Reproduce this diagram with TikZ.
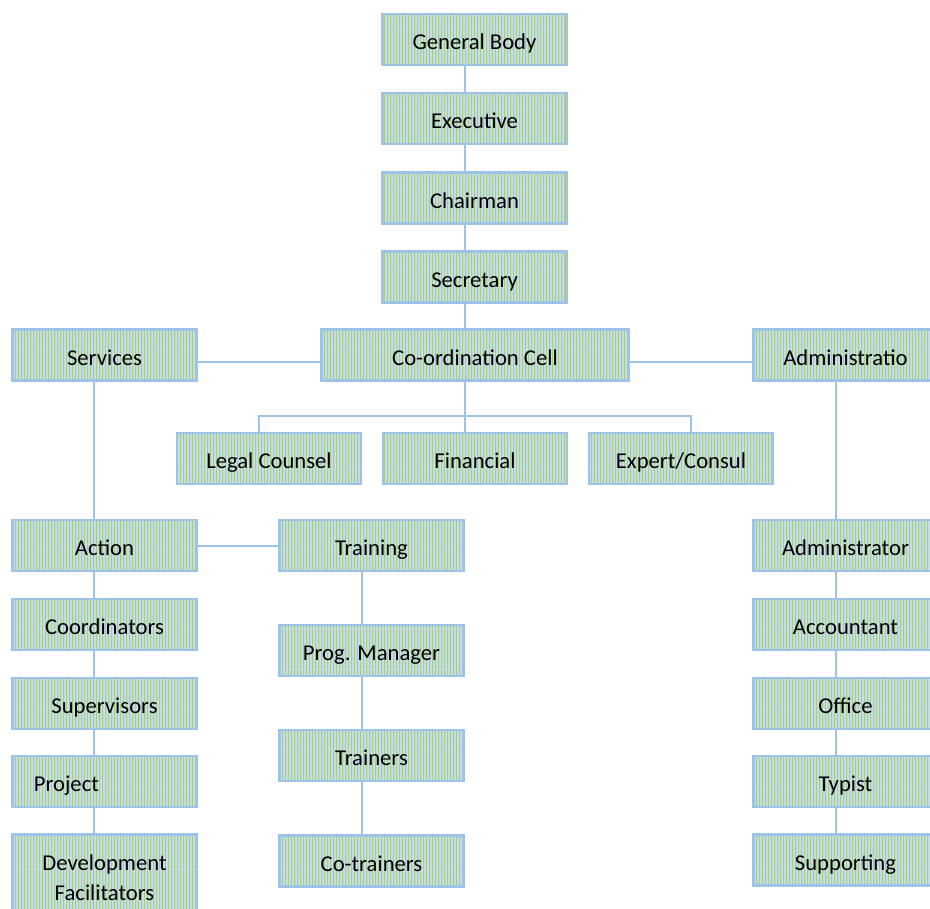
\documentclass[tikz,border=0pt]{standalone}
\usepackage{fontspec}
\setmainfont{Carlito}
\usetikzlibrary{calc,patterns.meta}

\definecolor{boxline}{RGB}{157,195,230}
\definecolor{boxbg}{RGB}{200,222,232}
\definecolor{boxgreen}{RGB}{164,206,134}

\tikzdeclarepattern{
  name=vstripes,
  type=uncolored,
  bounding box={(0pt,0pt) and (2.25pt,30pt)},
  tile size={(2.25pt,30pt)},
  code={\pgfpathrectangle{\pgfpointorigin}{\pgfpoint{1.2pt}{30pt}}\pgfusepath{fill}}
}

\tikzset{
  box/.style={draw=boxline, line width=1.9pt, preaction={fill=boxbg},
    pattern=vstripes, pattern color=boxgreen, rectangle,
    minimum width=138pt, minimum height=38pt, inner sep=2pt,
    text height=16pt, text depth=1pt,
    align=center, font=\fontsize{17}{23}\selectfont},
  link/.style={draw=boxline, line width=1.5pt}
}

\begin{document}
\begin{tikzpicture}[x=0.75pt, y=-0.75pt]
    \useasboundingbox (0,0) rectangle (930,908);
    \clip (0,0) rectangle (930,908);

    \node[box] (genbody) at (474.5,39.5) {General Body};
    \node[box] (exec) at (474.5,118.5) {Executive};
    \node[box] (chair) at (474.5,198) {Chairman};
    \node[box] (secr) at (474.5,277) {Secretary};

    \node[box, minimum width=230pt] (coord) at (475,355) {Co-ordination Cell};
    \node[box] (serv) at (104.5,355) {Services};
    \node[box] (admin) at (845.5,355) {Administratio};

    \node[box] (legal) at (269,458.5) {Legal Counsel};
    \node[box] (finance) at (475,458.5) {Financial};
    \node[box] (expert) at (681,458.5) {Expert/Consul};

    \node[box] (action) at (104.5,545.5) {Action};
    \node[box] (coords) at (104.5,624.5) {Coordinators};
    \node[box] (superv) at (104.5,703.5) {Supervisors};
    \node[box, text width=106pt, align=left] (proj) at (104.5,781.5) {Project};
    \node[box, anchor=north, minimum height=65pt, text height=, text depth=] (devfac) at (104.5,833) {Development\\ Facilitators};

    \node[box] (train) at (371.5,545.5) {Training};
    \node[box] (progman) at (371.5,650.5) {Prog. Manager};
    \node[box] (trainers) at (371.5,755.5) {Trainers};
    \node[box] (cotrain) at (371.5,861) {Co-trainers};

    \node[box] (admr) at (845.5,545.5) {Administrator};
    \node[box] (acct) at (845.5,624.5) {Accountant};
    \node[box] (office) at (845.5,703.5) {Office};
    \node[box] (typist) at (845.5,781.5) {Typist};
    \node[box] (support) at (845.5,860) {Supporting};

    \coordinate (spine) at (465,0);
    \coordinate (leftspine) at (94,0);
    \coordinate (midspine) at (362,0);
    \coordinate (rightspine) at (836,0);
    \coordinate (bus) at (465,416);

    \draw[link] (genbody.south -| spine) -- (exec.north -| spine);
    \draw[link] (exec.south -| spine) -- (chair.north -| spine);
    \draw[link] (chair.south -| spine) -- (secr.north -| spine);
    \draw[link] (secr.south -| spine) -- (coord.north -| spine);

    \draw[link] ($(serv.east)+(0,7)$) -- ($(coord.west)+(0,7)$);
    \draw[link] ($(coord.east)+(0,7)$) -- ($(admin.west)+(0,7)$);

    \draw[link] (coord.south -| spine) -- (bus);
    \draw[link] ($(legal.north)+(-10,0)$) |- (bus) -| ($(expert.north)+(10,0)$);
    \draw[link] (bus) -- (finance.north -| spine);

    \draw[link] (serv.south -| leftspine) -- (action.north -| leftspine);
    \draw[link] (action.south -| leftspine) -- (coords.north -| leftspine);
    \draw[link] (coords.south -| leftspine) -- (superv.north -| leftspine);
    \draw[link] (superv.south -| leftspine) -- (proj.north -| leftspine);
    \draw[link] (proj.south -| leftspine) -- (devfac.north -| leftspine);
    \draw[link] (action.east) -- (train.west);

    \draw[link] (train.south -| midspine) -- (progman.north -| midspine);
    \draw[link] (progman.south -| midspine) -- (trainers.north -| midspine);
    \draw[link] (trainers.south -| midspine) -- (cotrain.north -| midspine);

    \draw[link] (admin.south -| rightspine) -- (admr.north -| rightspine);
    \draw[link] (admr.south -| rightspine) -- (acct.north -| rightspine);
    \draw[link] (acct.south -| rightspine) -- (office.north -| rightspine);
    \draw[link] (office.south -| rightspine) -- (typist.north -| rightspine);
    \draw[link] (typist.south -| rightspine) -- (support.north -| rightspine);

\end{tikzpicture}
\end{document}
